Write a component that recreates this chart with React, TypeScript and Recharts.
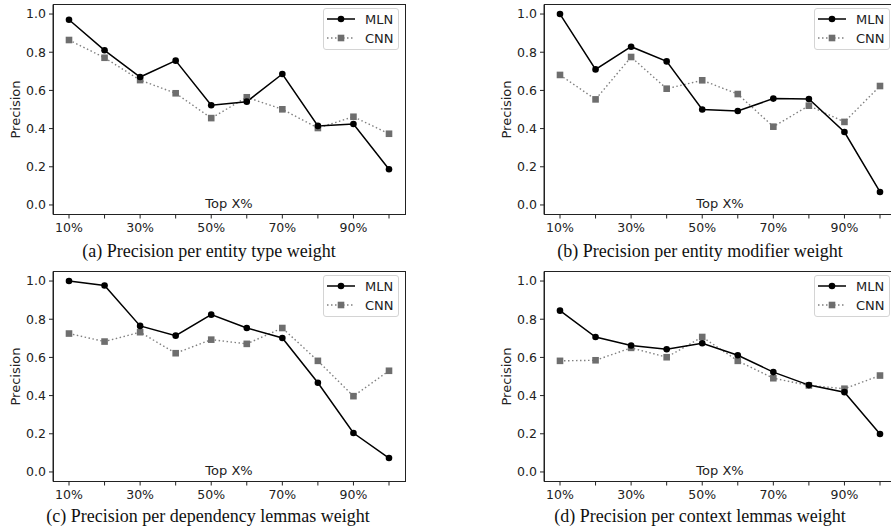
import { LineChart, Line, XAxis, YAxis, Legend } from "recharts";

const TOP_X = [10, 20, 30, 40, 50, 60, 70, 80, 90, 100];
const Y_TICKS = [0, 0.2, 0.4, 0.6, 0.8, 1.0];
const X_DOMAIN = [5.5, 104.5];
const Y_DOMAIN = [-0.05, 1.05];

const MLN_TYPE = [0.97, 0.81, 0.67, 0.756, 0.522, 0.541, 0.686, 0.414, 0.424, 0.187];
const CNN_TYPE = [0.864, 0.771, 0.654, 0.585, 0.455, 0.564, 0.501, 0.403, 0.462, 0.373];
const MLN_MODIFIER = [1.0, 0.71, 0.829, 0.752, 0.5, 0.492, 0.557, 0.555, 0.382, 0.068];
const CNN_MODIFIER = [0.681, 0.553, 0.775, 0.609, 0.653, 0.581, 0.41, 0.52, 0.435, 0.623];
const MLN_DEPENDENCY = [1.0, 0.977, 0.765, 0.714, 0.824, 0.754, 0.702, 0.467, 0.204, 0.073];
const CNN_DEPENDENCY = [0.725, 0.683, 0.732, 0.622, 0.693, 0.671, 0.754, 0.582, 0.397, 0.53];
const MLN_CONTEXT = [0.845, 0.707, 0.662, 0.643, 0.674, 0.611, 0.523, 0.455, 0.418, 0.199];
const CNN_CONTEXT = [0.582, 0.585, 0.65, 0.601, 0.707, 0.582, 0.491, 0.453, 0.436, 0.505];

const CAPTION_A = "(a) Precision per entity type weight";
const CAPTION_B = "(b) Precision per entity modifier weight";
const CAPTION_C = "(c) Precision per dependency lemmas weight";
const CAPTION_D = "(d) Precision per context lemmas weight";

const FONT = "'DejaVu Sans', sans-serif";
const INK = "#222";
const MLN_COLOR = "#000";
const CNN_COLOR = "#6e6e6e";

// plot area layout shared by all four panels
const CHART_H = 265;
const Y_AXIS_W = 53;
const PLOT_TOP = 4.5;
const PLOT_H = 210;
const X_AXIS_H = 30;

function buildRows(mln: number[], cnn: number[]) {
  return TOP_X.map((x, i) => ({ x, mln: mln[i], cnn: cnn[i] }));
}

function SquareDot(p: any) {
  if (p.cx == null || p.cy == null) return null;
  return <rect key={`sq-${p.index}`} x={p.cx - 3.3} y={p.cy - 3.3} width={6.6} height={6.6} fill={CNN_COLOR} />;
}

function LegendBox() {
  const rows = [
    { name: "MLN", dash: undefined, color: MLN_COLOR, square: false },
    { name: "CNN", dash: "1.5 2.5", color: "#808080", square: true },
  ];
  return (
    <div style={{ width: 76, height: 42, border: "1px solid #d4d4d4", borderRadius: 3, background: "rgba(255,255,255,0.85)", boxSizing: "border-box", fontFamily: FONT, fontSize: 13, color: INK, paddingTop: 1 }}>
      {rows.map(r => (
        <div key={r.name} style={{ display: "flex", alignItems: "center", height: 19 }}>
          <svg width={41} height={10} style={{ display: "block" }}>
            <line x1={3} y1={5} x2={31} y2={5} stroke={r.color} strokeWidth={1.5} strokeDasharray={r.dash} />
            {r.square
              ? <rect x={13.7} y={1.7} width={6.6} height={6.6} fill={CNN_COLOR} />
              : <circle cx={17} cy={5} r={3.3} fill={MLN_COLOR} />}
          </svg>
          <span style={{ lineHeight: "19px" }}>{r.name}</span>
        </div>
      ))}
    </div>
  );
}

function Panel({ mln, cnn, left, top, width, marginLeft, marginRight }: { mln: number[]; cnn: number[]; left: number; top: number; width: number; marginLeft: number; marginRight: number }) {
  const data = buildRows(mln, cnn);
  const plotLeft = marginLeft + Y_AXIS_W;
  const plotRight = width - marginRight;
  return (
    <div style={{ position: "absolute", left, top }}>
      <LineChart width={width} height={CHART_H} data={data} margin={{ top: PLOT_TOP, right: marginRight, bottom: CHART_H - PLOT_TOP - PLOT_H - X_AXIS_H, left: marginLeft }}>
        <XAxis
          dataKey="x"
          type="number"
          domain={X_DOMAIN}
          ticks={TOP_X}
          interval={0}
          allowDataOverflow
          height={X_AXIS_H}
          tickSize={4}
          tickMargin={5}
          tickFormatter={(v: number) => (v % 20 === 10 ? `${v}%` : "")}
          tick={{ fontSize: 12.5, fill: INK, fontFamily: FONT }}
          stroke={INK}
          label={(p: any) => (
            <text x={p.viewBox.x + p.viewBox.width / 2} y={p.viewBox.y - 7} textAnchor="middle" fontSize={13} fill={INK} fontFamily={FONT}>Top X%</text>
          )}
        />
        <YAxis
          type="number"
          domain={Y_DOMAIN}
          ticks={Y_TICKS}
          interval={0}
          allowDataOverflow
          width={Y_AXIS_W}
          tickSize={4}
          tickMargin={3}
          tickFormatter={(v: number) => v.toFixed(1)}
          tick={{ fontSize: 12.5, fill: INK, fontFamily: FONT }}
          stroke={INK}
          label={(p: any) => {
            const cx = p.viewBox.x + 15;
            const cy = p.viewBox.y + p.viewBox.height / 2;
            return <text x={cx} y={cy} transform={`rotate(-90, ${cx}, ${cy})`} textAnchor="middle" dominantBaseline="central" fontSize={13} fill={INK} fontFamily={FONT}>Precision</text>;
          }}
        />
        <Legend layout="vertical" align="center" verticalAlign="middle" content={() => <LegendBox />} wrapperStyle={{ left: plotRight - 82, top: 7.5, width: 76 }} />
        <Line dataKey="cnn" name="CNN" stroke="#808080" strokeWidth={1.4} strokeDasharray="1.5 2.5" dot={SquareDot} activeDot={false} isAnimationActive={false} />
        <Line dataKey="mln" name="MLN" stroke={MLN_COLOR} strokeWidth={1.5} dot={{ r: 3.3, fill: MLN_COLOR, stroke: MLN_COLOR, strokeWidth: 0 }} activeDot={false} isAnimationActive={false} />
      </LineChart>
      {/* matplotlib-style frame round the plot area */}
      <div style={{ position: "absolute", left: plotLeft - 0.5, top: PLOT_TOP - 0.5, width: plotRight - plotLeft + 1, height: PLOT_H + 1, border: `1px solid ${INK}`, boxSizing: "border-box", pointerEvents: "none" }} />
    </div>
  );
}

function Caption({ text, cx, cy }: { text: string; cx: number; cy: number }) {
  return (
    <div style={{ position: "absolute", left: cx - 220, top: cy - 10, width: 440, height: 20, lineHeight: "20px", textAlign: "center", fontFamily: "'Liberation Serif', 'Times New Roman', serif", fontSize: 18, color: "#111", whiteSpace: "nowrap" }}>
      {text}
    </div>
  );
}

export default function App() {
  return (
    <div style={{ position: "absolute", left: 0, top: 0, width: 891, height: 531, overflow: "hidden", background: "#fff" }}>
      <Panel mln={MLN_TYPE} cnn={CNN_TYPE} left={0} top={0} width={445} marginLeft={0} marginRight={40} />
      <Panel mln={MLN_MODIFIER} cnn={CNN_MODIFIER} left={445} top={0} width={460} marginLeft={46} marginRight={9} />
      <Panel mln={MLN_DEPENDENCY} cnn={CNN_DEPENDENCY} left={0} top={267} width={445} marginLeft={0} marginRight={40} />
      <Panel mln={MLN_CONTEXT} cnn={CNN_CONTEXT} left={445} top={267} width={460} marginLeft={46} marginRight={9} />
      <Caption text={CAPTION_A} cx={209} cy={251} />
      <Caption text={CAPTION_B} cx={700} cy={251} />
      <Caption text={CAPTION_C} cx={208} cy={516} />
      <Caption text={CAPTION_D} cx={700} cy={516} />
    </div>
  );
}
